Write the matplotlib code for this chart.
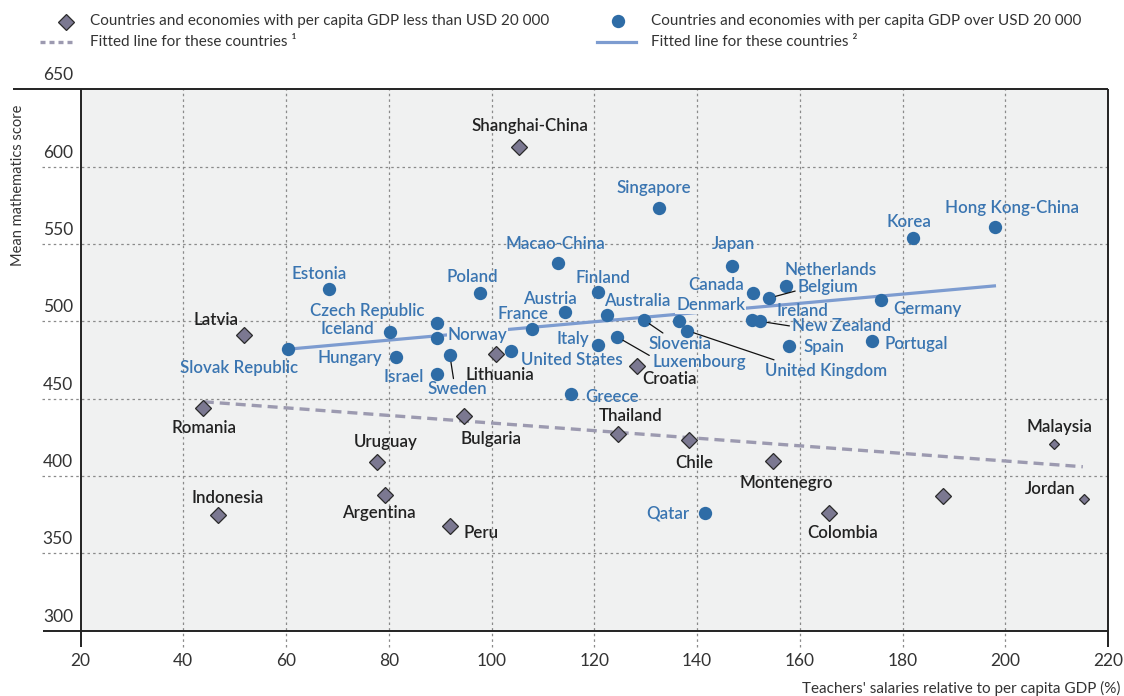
import matplotlib
matplotlib.use("Agg")
import matplotlib.pyplot as plt
from matplotlib.lines import Line2D
import matplotlib.transforms as mtransforms

# ---------------- data ----------------
high_names = ["Slovak Republic", "Estonia", "Czech Republic", "Norway", "Iceland", "Hungary",
              "Sweden", "Israel", "Poland", "United States", "France", "Macao-China", "Austria",
              "Italy", "Finland", "Australia", "Luxembourg", "Greece", "Slovenia", "Denmark",
              "United Kingdom", "Singapore", "Japan", "Canada", "Belgium", "Netherlands",
              "Ireland", "New Zealand", "Spain", "Germany", "Portugal", "Korea",
              "Hong Kong-China", "Qatar"]
high_x = [60.4, 68.4, 89.3, 89.4, 80.3, 81.5, 91.9, 89.3, 97.7, 103.7, 107.9, 112.9, 114.4,
          120.8, 120.7, 122.4, 124.4, 115.5, 129.6, 136.4, 138.1, 132.7, 146.9, 150.9, 154.0,
          157.4, 150.8, 152.3, 157.9, 175.8, 174.1, 182.1, 198.0, 141.5]
high_y = [482, 521, 499, 489, 493, 477, 478, 466, 518, 481, 495, 538, 506, 485, 519, 504, 490,
          453, 501, 500, 494, 573, 536, 518, 515, 523, 501, 500, 484, 514, 487, 554, 561, 376]

low_names = ["Shanghai-China", "Latvia", "Romania", "Bulgaria", "Thailand", "Uruguay",
             "Argentina", "Indonesia", "Peru", "Lithuania", "Croatia", "Chile", "Montenegro",
             "Colombia", "", "Malaysia", "Jordan"]
low_x = [105.3, 51.9, 43.9, 94.6, 124.7, 77.8, 79.2, 46.7, 91.9, 100.8, 128.3, 138.5, 154.8,
         165.6, 187.8, 209.4, 215.3]
low_y = [613, 491, 444, 439, 427, 409, 388, 375, 368, 479, 471, 423, 410, 376, 387, 421, 385]
low_small = ["Malaysia", "Jordan"]

fit_high_x = [60.4, 198.2]
fit_high_y = [482, 523]
fit_low_x = [44.0, 215.1]
fit_low_y = [448, 406]

x_ticks = [20, 40, 60, 80, 100, 120, 140, 160, 180, 200, 220]
y_ticks = [300, 350, 400, 450, 500, 550, 600, 650]

legend_low = "Countries and economies with per capita GDP less than USD 20 000"
legend_high = "Countries and economies with per capita GDP over USD 20 000"
legend_fit1 = "Fitted line for these countries \u00b9"
legend_fit2 = "Fitted line for these countries \u00b2"
x_title = "Teachers' salaries relative to per capita GDP (%)"
y_title = "Mean mathematics score"

# ---------------- label layout (offsets in pixels, ha, leader relpos) ----------------
label_pos = {
    "Shanghai-China": (11, 21), "Singapore": (-6, 20), "Macao-China": (-2, 19),
    "Japan": (1, 22), "Korea": (-4, 16), "Hong Kong-China": (17, 19), "Estonia": (-10, 15),
    "Poland": (-7, 16), "Finland": (5, 14), "Netherlands": (44, 16), "Canada": (-37, 8),
    "Belgium": (29, 11, "left", (0, 0.3)), "Austria": (-16, 13), "Australia": (31, 14),
    "Czech Republic": (-69, 12), "France": (-9, 15), "Denmark": (32, 16),
    "Ireland": (50, 9), "Germany": (46, -9), "Iceland": (-43, 3), "Norway": (40, 3),
    "New Zealand": (32, -5, "left", (0, 0.5)), "Italy": (-26, 6),
    "Slovenia": (36, -24, "center", (0.3, 1)), "Hungary": (-47, -1),
    "Slovak Republic": (-49, -19), "United States": (61, -9),
    "Luxembourg": (82, -25, "center", (0, 0.8)), "Spain": (35, -1), "Portugal": (44, -3),
    "United Kingdom": (139, -40, "center", (0.14, 1)), "Israel": (-33, -3),
    "Sweden": (7, -34, "center", (0.45, 1)), "Greece": (41, -3), "Qatar": (-37, 0),
    "Lithuania": (4, -21), "Croatia": (33, -13), "Latvia": (-28, 15), "Romania": (1, -20),
    "Thailand": (12, 18), "Bulgaria": (27, -23), "Uruguay": (8, 20), "Chile": (5, -23),
    "Montenegro": (13, -22), "Malaysia": (6, 17), "Jordan": (-34, 10),
    "Indonesia": (10, 17), "Argentina": (-6, -18), "Colombia": (14, -20), "Peru": (31, -7),
}
masked_labels = ["Norway", "Denmark"]

# ---------------- style ----------------
W, H = 1124, 696
BG = "#f0f1f1"
BLUE = "#2e6ca6"
BLUE_TXT = "#3a75b1"
BLUE_LINE = "#7d9cd0"
DIAMOND = "#7b7891"
GRAY_LINE = "#9c9ab0"
DARK = "#222222"
GRID = "#8a8a8a"
FONT = "Lato"

plt.rcParams["font.family"] = [FONT, "DejaVu Sans"]

fig = plt.figure(figsize=(W / 100, H / 100), dpi=100)
fig.patch.set_facecolor("white")
x0, x1, ytop, ybot = 80.5, 1108.0, 89.3, 630.7
ax = fig.add_axes([x0 / W, 1 - ybot / H, (x1 - x0) / W, (ybot - ytop) / H])
ax.set_facecolor(BG)
ax.set_xlim(20, 220)
ax.set_ylim(300, 650)
for s in ax.spines.values():
    s.set_visible(False)
ax.set_xticks([])
ax.set_yticks([])

axw = x1 - x0
axh = ybot - ytop
ytr = ax.get_yaxis_transform()
xtr = ax.get_xaxis_transform()

# horizontal gridlines + frame lines
for yv in y_ticks:
    if yv == 650:
        ax.plot([(13 - x0) / axw, 1], [yv, yv], transform=ytr, color=DARK, lw=1.4,
                clip_on=False, zorder=3, solid_capstyle="butt")
    elif yv == 300:
        ax.plot([(43 - x0) / axw, 1], [yv, yv], transform=ytr, color=DARK, lw=1.4,
                clip_on=False, zorder=3, solid_capstyle="butt")
    else:
        ax.plot([(42 - x0) / axw, 1], [yv, yv], transform=ytr, color=GRID, lw=0.9,
                ls=(0, (2, 2.5)), clip_on=False, zorder=1)
    lab_tr = mtransforms.offset_copy(ytr, fig=fig, x=0, y=6, units="dots")
    ax.text((73 - x0) / axw, yv, str(yv), transform=lab_tr, ha="right", va="bottom",
            fontsize=12.5, color="#333333")

# vertical gridlines + side lines
ext = -(647 - ybot) / axh
for xv in x_ticks:
    if xv in (20, 220):
        ax.plot([xv, xv], [ext, 1], transform=xtr, color=DARK, lw=1.4, clip_on=False,
                zorder=3, solid_capstyle="butt")
    else:
        ax.plot([xv, xv], [ext, 1], transform=xtr, color=GRID, lw=0.9,
                ls=(0, (2, 2.5)), clip_on=False, zorder=1)
    ax.text(xv, -(661 - ybot) / axh, str(xv), transform=xtr, ha="center", va="center",
            fontsize=12.5, color="#333333")

# fitted lines
ax.plot(fit_low_x, fit_low_y, color=GRAY_LINE, lw=2.4, ls=(0, (3, 1.8)), zorder=2)
ax.plot(fit_high_x, fit_high_y, color=BLUE_LINE, lw=2.3, zorder=2,
        solid_capstyle="butt")

# markers
big_lx = [x for x, n in zip(low_x, low_names) if n not in low_small]
big_ly = [y for y, n in zip(low_y, low_names) if n not in low_small]
sm_lx = [x for x, n in zip(low_x, low_names) if n in low_small]
sm_ly = [y for y, n in zip(low_y, low_names) if n in low_small]
ax.plot(big_lx, big_ly, ls="none", marker="D", ms=8.3, mfc=DIAMOND, mec="#2a2a2a",
        mew=0.9, zorder=5)
ax.plot(sm_lx, sm_ly, ls="none", marker="D", ms=5.4, mfc=DIAMOND, mec="#2a2a2a",
        mew=0.9, zorder=5)
ax.plot(high_x, high_y, ls="none", marker="o", ms=9.6, mfc=BLUE, mec=BLUE, mew=0,
        zorder=5)

LAB_FS = 12.2


def put_label(name, x, y, color):
    if not name or name not in label_pos:
        return
    spec = label_pos[name]
    dx, dy = spec[0], spec[1]
    ha = spec[2] if len(spec) > 2 else "center"
    kw = dict(textcoords="offset pixels", ha=ha, va="center", fontsize=LAB_FS,
              color=color, zorder=6, fontweight="semibold")
    if len(spec) > 3:
        kw["arrowprops"] = dict(arrowstyle="-", color="#111111", lw=0.9, shrinkA=0,
                                shrinkB=5, relpos=spec[3])
    if name in masked_labels:
        kw["bbox"] = dict(facecolor=BG, edgecolor="none", pad=0.5)
    ax.annotate(name, (x, y), xytext=(dx, dy), **kw)


for n, x, y in zip(high_names, high_x, high_y):
    put_label(n, x, y, BLUE_TXT)
for n, x, y in zip(low_names, low_x, low_y):
    put_label(n, x, y, DARK)

# axis titles
fig.text(18 / W, 1 - 185 / H, y_title, rotation=90, ha="center", va="center",
         fontsize=10.5, color="#333333")
fig.text(1120 / W, 1 - 688 / H, x_title, ha="right", va="center", fontsize=11,
         color="#333333")

# legend (drawn manually)
ftr = fig.transFigure


def fx(px):
    return px / W


def fy(py):
    return 1 - py / H


fig.add_artist(Line2D([fx(66)], [fy(22)], marker="D", ms=8.3, mfc=DIAMOND, mec="#2a2a2a",
                      mew=0.9, ls="none", transform=ftr))
fig.add_artist(Line2D([fx(40), fx(73)], [fy(42), fy(42)], color=GRAY_LINE, lw=2.4,
                      ls=(0, (1.5, 1.2)), transform=ftr))
fig.add_artist(Line2D([fx(618)], [fy(21)], marker="o", ms=9.6, mfc=BLUE, mec=BLUE, mew=0,
                      ls="none", transform=ftr))
fig.add_artist(Line2D([fx(597), fx(636)], [fy(42), fy(42)], color=BLUE_LINE, lw=2.3,
                      transform=ftr))
LEG_FS = 11
fig.text(fx(90), fy(21), legend_low, ha="left", va="center", fontsize=LEG_FS, color="#333333")
fig.text(fx(90), fy(42), legend_fit1, ha="left", va="center", fontsize=LEG_FS, color="#333333")
fig.text(fx(651), fy(21), legend_high, ha="left", va="center", fontsize=LEG_FS, color="#333333")
fig.text(fx(651), fy(42), legend_fit2, ha="left", va="center", fontsize=LEG_FS, color="#333333")

fig.savefig("out.png", dpi=100)
